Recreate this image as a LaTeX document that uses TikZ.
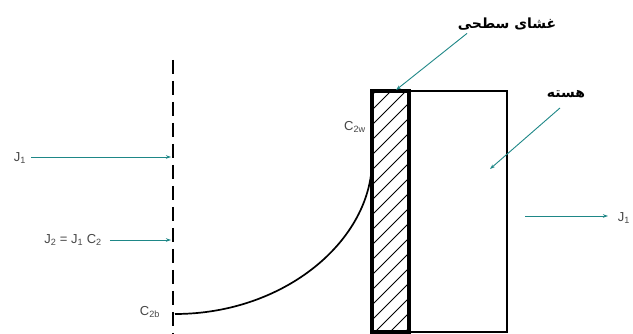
\documentclass[tikz,border=0pt]{standalone}
\usepackage{fontspec}
\setsansfont{Liberation Sans}
\newfontfamily\farsi[Script=Arabic]{DejaVu Sans}
\TeXXeTstate=1
\usepackage{xcolor}
\usepackage{tikz}
\usetikzlibrary{arrows.meta,positioning,calc}
\definecolor{arrteal}{RGB}{30,135,135}
\definecolor{lblgray}{RGB}{70,70,70}

\begin{document}
\begin{tikzpicture}[x=1pt,y=-1pt,
  lbl/.style={font=\sffamily\fontsize{13}{13}\selectfont, text=lblgray, inner sep=0pt},
  fa/.style={font=\farsi\bfseries\fontsize{14}{14}\selectfont, inner sep=0pt},
  arr/.style={-{Stealth[length=5pt,width=3.5pt]}, arrteal, line width=0.9pt},
  wall/.style={line width=4pt},
  core/.style={line width=1.5pt},
  bound/.style={line width=2.5pt, dash pattern=on 14pt off 7pt}
]
\useasboundingbox (0,0) rectangle (633,334);

% interface and particle
\draw[bound] (173,60) -- (173,334);
\draw[core] (409,91) rectangle (507,332);
\begin{scope}
  \clip (372,91) rectangle (409,332);
  \foreach \y in {95,110,...,380}
    \draw[line width=0.8pt] (372,\y) -- (412,\y-40);
\end{scope}
\draw[wall] (372,91) rectangle (409,332);

% labels
\node[lbl] (j1) at (20,158) {J\textsubscript{1}};
\node[lbl] (j2) at (73,240) {J\textsubscript{2} = J\textsubscript{1} C\textsubscript{2}};
\node[lbl] (cb) at (150,312) {C\textsubscript{2b}};
\node[lbl] (cw) at (355,127) {C\textsubscript{2w}};
\node[lbl] (j1r) at (624,218) {J\textsubscript{1}};
\node[fa] (memb) at (507,24) {\beginR غشای سطحی\endR};
\node[fa] (hst) at (566,94) {\beginR هسته\endR};

\coordinate (b) at (175,314);
\coordinate (w) at (372,160);
\draw[line width=1.7pt] (b) .. controls (285,314) and (372,240) .. (w);

\coordinate (a1) at (171,157);
\coordinate (a2) at (171,240);
\coordinate (a3) at (396,90);
\coordinate (a4) at (490,169);
\coordinate (a5) at (525,216);
\coordinate (a6) at (608,216);
\draw[arr] ([xshift=5pt]j1.east |- a1) -- (a1);
\draw[arr] ([xshift=8pt]j2.east |- a2) -- (a2);
\draw[arr] ([xshift=-40pt,yshift=-3pt]memb.south) -- (a3);
\draw[arr] ([xshift=-6pt,yshift=-10pt]hst.south) -- (a4);
\draw[arr] (a5) -- (a6);
\end{tikzpicture}
\end{document}
